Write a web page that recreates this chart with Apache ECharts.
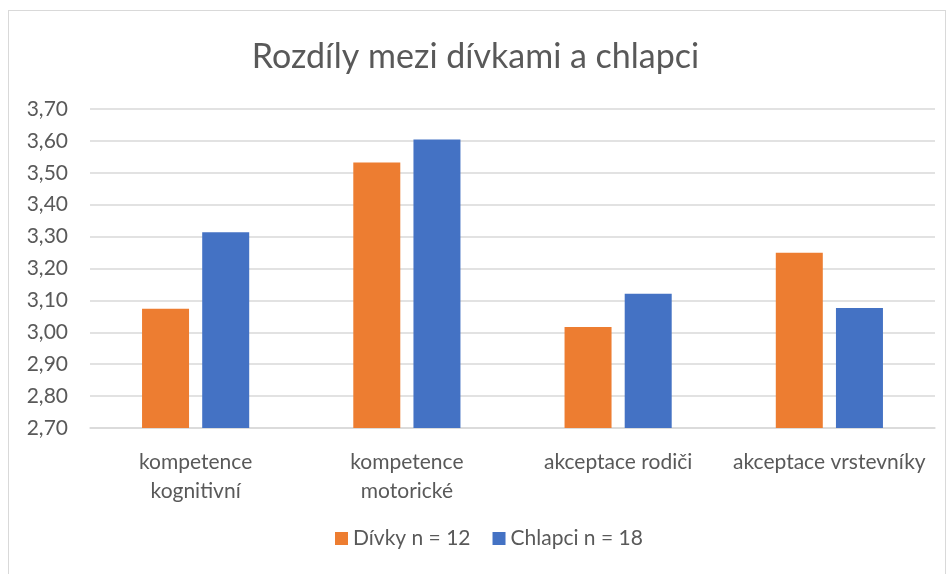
<!DOCTYPE html>
<html>
<head>
<meta charset="utf-8">
<script src="https://cdn.jsdelivr.net/npm/echarts@6/dist/echarts.min.js"></script>
<style>
  html, body { margin: 0; padding: 0; background: #fff; }
  #frame {
    position: absolute; left: 8px; top: 10px; width: 938px; height: 570px;
    border: 1px solid #d9d9d9; box-sizing: border-box;
  }
  #chart { position: absolute; left: 0; top: 0; width: 951px; height: 574px; }
</style>
</head>
<body>
<div id="frame"></div>
<div id="chart"></div>
<script>
// kategorie a hodnoty
var categories = ["kompetence\nkognitivní", "kompetence\nmotorické", "akceptace rodiči", "akceptace vrstevníky"];
var divky = [3.074, 3.532, 3.017, 3.249];
var chlapci = [3.314, 3.604, 3.121, 3.076];
var seriesNames = ["Dívky n = 12", "Chlapci n = 18"];

var font = "Lato, 'Open Sans', sans-serif";
var chart = echarts.init(document.getElementById("chart"));
chart.setOption({
  animation: false,
  color: ["#ED7D31", "#4472C4"],
  title: {
    text: "Rozdíly mezi dívkami a chlapci",
    left: "center",
    top: 35,
    textStyle: { color: "#595959", fontSize: 34, fontWeight: "normal", fontFamily: font }
  },
  legend: {
    data: seriesNames,
    bottom: 20,
    left: 330,
    itemWidth: 13,
    itemHeight: 13,
    itemGap: 22,
    icon: "rect",
    textStyle: { color: "#595959", fontSize: 21, fontFamily: font }
  },
  grid: { left: 90, right: 16, top: 109, bottom: 146 },
  xAxis: {
    type: "category",
    data: categories,
    axisTick: { show: false },
    axisLine: { lineStyle: { color: "#d9d9d9", width: 1.5 } },
    axisLabel: {
      color: "#595959", fontSize: 21, fontFamily: font,
      margin: 20, lineHeight: 29, interval: 0
    }
  },
  yAxis: {
    type: "value",
    min: 2.7,
    max: 3.7,
    interval: 0.1,
    axisLine: { show: false },
    axisTick: { show: false },
    splitLine: { lineStyle: { color: "#d9d9d9", width: 1.5 } },
    axisLabel: {
      color: "#595959", fontSize: 21, fontFamily: font, margin: 22,
      formatter: function (v) { return v.toFixed(2).replace(".", ","); }
    }
  },
  series: [
    { name: seriesNames[0], type: "bar", data: divky, barWidth: 47, barGap: "28%" },
    { name: seriesNames[1], type: "bar", data: chlapci, barWidth: 47, barGap: "28%" }
  ]
});
</script>
</body>
</html>
